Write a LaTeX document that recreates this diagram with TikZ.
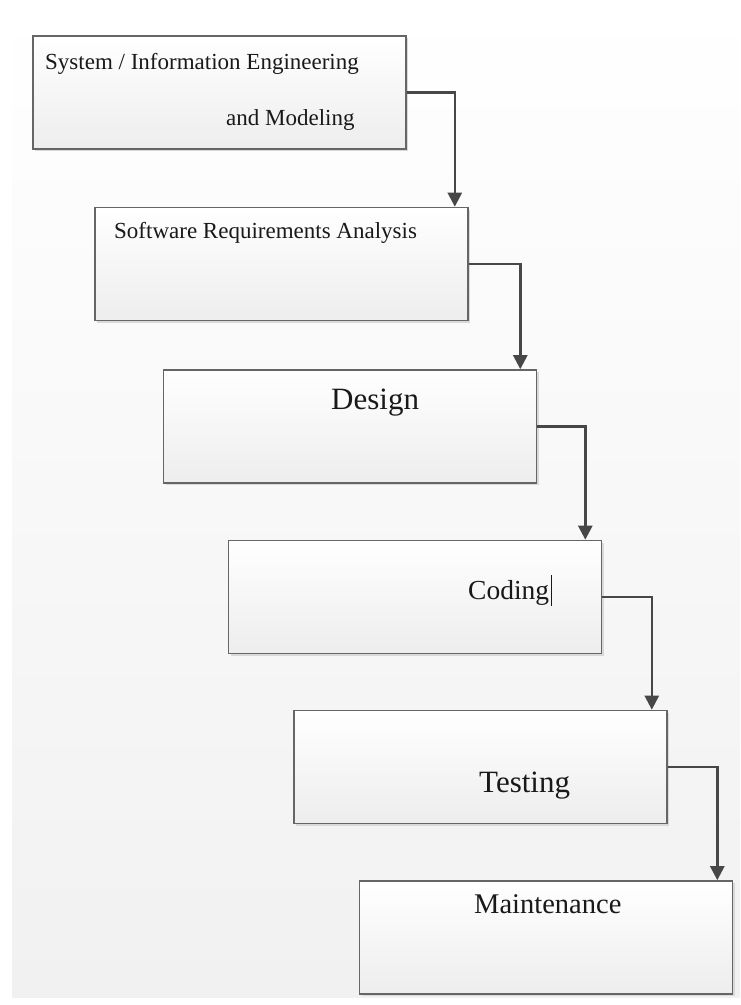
\documentclass[tikz,border=0pt]{standalone}
\usepackage{fontspec}
\setmainfont{Liberation Serif}
\usetikzlibrary{arrows.meta,shadows}

\begin{document}
\begin{tikzpicture}[x=1pt,y=-1pt,
  stage/.style={draw=gray!80!black,line width=1.6pt,minimum width=373pt,minimum height=113pt,
    top color=white,bottom color=gray!14,
    drop shadow={shadow xshift=2pt,shadow yshift=-2pt,fill=gray!30,opacity=1}},
  flow/.style={draw=black!72,line width=2.5pt,-{Triangle[length=14pt,width=14pt]}},
  label/.style={anchor=base west,inner sep=0pt,text=black!90}]
  \useasboundingbox (0,0) rectangle (740,1005);
  \shade[top color=white,bottom color=gray!11] (12,0) rectangle (740,997);
  \node[stage] (sys) at (219.5,92.5) {};
  \node[stage] (req) at (281.5,264) {};
  \node[stage] (des) at (350,426.5) {};
  \node[stage] (cod) at (415,597) {};
  \node[stage] (tst) at (480.5,767) {};
  \node[stage] (mnt) at (546,937.5) {};
  \node[label,font=\fontsize{23}{27}\selectfont] (systxt) at (45,69) {System / Information Engineering};
  \node[label,font=\fontsize{23}{27}\selectfont] (modtxt) at (226,125) {and Modeling};
  \node[label,font=\fontsize{23}{27}\selectfont] (reqtxt) at (114,238) {Software Requirements Analysis};
  \node[label,font=\fontsize{31}{36}\selectfont] (destxt) at (331,409) {Design};
  \node[label,font=\fontsize{27.5}{32}\selectfont] (codtxt) at (468,599) {Coding\hspace{2pt}\rule[-7pt]{1pt}{31pt}};
  \node[label,font=\fontsize{31}{36}\selectfont] (tsttxt) at (479,792) {Testing};
  \node[label,font=\fontsize{28.5}{33}\selectfont] (mnttxt) at (474,913) {Maintenance};
  \draw[flow] (sys.east) -| ([xshift=-14pt]req.north east);
  \draw[flow] (req.east) -| ([xshift=-17pt]des.north east);
  \draw[flow] (des.east) -| ([xshift=-17pt]cod.north east);
  \draw[flow] (cod.east) -| ([xshift=-16pt]tst.north east);
  \draw[flow] (tst.east) -| ([xshift=-16pt]mnt.north east);
\end{tikzpicture}
\end{document}
